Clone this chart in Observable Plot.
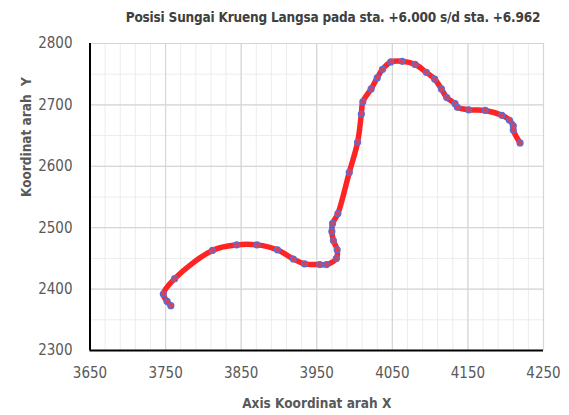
<!DOCTYPE html>
<html>
<head>
<meta charset="utf-8">
<script src="https://cdn.jsdelivr.net/npm/d3@7"></script>
<script src="https://cdn.jsdelivr.net/npm/@observablehq/plot@0.6"></script>
<style>
  body { margin: 0; background: #fff; }
  #wrap { width: 569px; height: 415px; position: relative; overflow: hidden;
          font-family: "DejaVu Sans", sans-serif; font-stretch: condensed; }
  #wrap svg { display: block; }
</style>
</head>
<body>
<div id="wrap">
  <svg id="title" width="569" height="30">
    <text x="333" y="18" text-anchor="middle" dominant-baseline="middle"
          font-weight="bold" font-size="13.5" letter-spacing="-0.2" fill="#404040">Posisi Sungai Krueng Langsa pada sta. +6.000 s/d sta. +6.962</text>
  </svg>
  <div id="chart"></div>
</div>
<script>
// River centreline coordinates, from the downstream end near sta. +6.000
const xCoord = [3757, 3752, 3747, 3762, 3812, 3844, 3871, 3898, 3919, 3934, 3954,
                3963, 3976, 3977, 3972, 3970, 3971, 3978, 3993, 4004, 4009, 4011,
                4022, 4030, 4037, 4048, 4063, 4080, 4095, 4106, 4115, 4122, 4133,
                4136, 4151, 4173, 4195, 4205, 4210, 4210, 4219];
const yCoord = [2373, 2380, 2392, 2417, 2463, 2472, 2472, 2464, 2449, 2441, 2440,
                2440, 2450, 2464, 2479, 2494, 2507, 2523, 2590, 2639, 2685, 2705,
                2726, 2744, 2758, 2770, 2771, 2766, 2753, 2742, 2726, 2712, 2702,
                2696, 2692, 2691, 2683, 2675, 2666, 2659, 2638];

const xTicks = [3650, 3750, 3850, 3950, 4050, 4150, 4250];
const yTicks = [2300, 2400, 2500, 2600, 2700, 2800];
const xMinor = d3.range(3650, 4251, 20);
const yMinor = d3.range(2300, 2801, 50);

const xLabel = "Axis Koordinat arah X";
const yLabel = "Koordinat arah  Y";

const points = xCoord.map((x, i) => ({x, y: yCoord[i]}));

const chart = Plot.plot({
  width: 569,
  height: 385,
  marginLeft: 89.5,
  marginRight: 26,
  marginTop: 13,
  marginBottom: 65,
  style: {fontFamily: "inherit", fontStretch: "condensed", background: "#fff", overflow: "visible"},
  x: {domain: [3650, 4250]},
  y: {domain: [2300, 2800]},
  marks: [
    Plot.gridX(xMinor, {stroke: "#ececec", strokeOpacity: 1, strokeWidth: 1}),
    Plot.gridY(yMinor, {stroke: "#ececec", strokeOpacity: 1, strokeWidth: 1}),
    Plot.gridX(xTicks, {stroke: "#d6d6d6", strokeOpacity: 1, strokeWidth: 1.2}),
    Plot.gridY(yTicks, {stroke: "#d6d6d6", strokeOpacity: 1, strokeWidth: 1.2}),
    Plot.axisX(xTicks, {tickSize: 0, tickPadding: 17, fontSize: 15, fill: "#595959",
                        tickFormat: d => String(d), label: null}),
    Plot.axisY(yTicks, {tickSize: 0, tickPadding: 17.5, fontSize: 15, fill: "#595959",
                        tickFormat: d => String(d), label: null}),
    Plot.ruleX([3650], {stroke: "#000", strokeWidth: 2}),
    Plot.ruleY([2300], {stroke: "#000", strokeWidth: 2}),
    Plot.line(points, {x: "x", y: "y", curve: "catmull-rom", stroke: "#ff2424",
                       strokeWidth: 5.5, strokeLinecap: "round", strokeLinejoin: "round"}),
    Plot.dot(points, {x: "x", y: "y", r: 3, fill: "#d8405e", stroke: "#5670d4", strokeWidth: 1.2}),
    Plot.text([xLabel], {frameAnchor: "bottom", dy: 57, text: d => d, fontSize: 13.5,
                         fontWeight: "bold", fill: "#595959"}),
    Plot.text([yLabel], {frameAnchor: "left", dx: -63.5, rotate: -90, text: d => d, fontSize: 13.5,
                         fontWeight: "bold", fill: "#595959"})
  ]
});
document.getElementById("chart").append(chart);
</script>
</body>
</html>
